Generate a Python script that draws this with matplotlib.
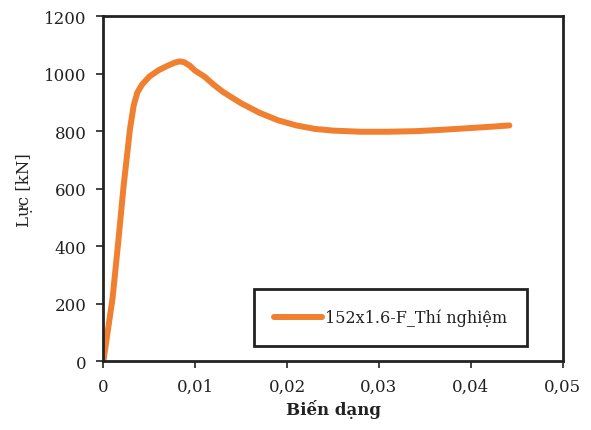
import matplotlib
matplotlib.use("Agg")
import matplotlib.pyplot as plt
from matplotlib.ticker import FuncFormatter

# Strain (bien dang) and force (kN)
bien_dang = [0.0, 0.0005, 0.001, 0.0016, 0.0022, 0.0029, 0.0033, 0.0037, 0.0042,
             0.005, 0.006, 0.007, 0.0078, 0.0083, 0.0088, 0.0094, 0.01, 0.011,
             0.012, 0.013, 0.015, 0.017, 0.019, 0.021, 0.023, 0.025, 0.028,
             0.031, 0.034, 0.037, 0.04, 0.042, 0.0442]
luc = [0, 110, 220, 410, 610, 810, 890, 935, 962,
       990, 1012, 1028, 1039, 1043, 1040, 1028, 1010, 990,
       962, 937, 897, 864, 838, 820, 808, 802, 798,
       798, 800, 805, 811, 815, 820]
ten_duong = "152x1.6-F_Thí nghiệm"

plt.rcParams['font.family'] = ['DejaVu Serif']
plt.rcParams['font.size'] = 12

fig, ax = plt.subplots(figsize=(5.91, 4.31), dpi=100)
fig.subplots_adjust(left=0.175, right=0.952, top=0.96, bottom=0.16)

ax.plot(bien_dang, luc, color='#F07F2F', lw=4.3, solid_capstyle='round',
        solid_joinstyle='round', label=ten_duong)

ax.set_xlim(0, 0.05)
ax.set_ylim(0, 1200)
ax.set_xticks([0, 0.01, 0.02, 0.03, 0.04, 0.05])
ax.set_yticks(range(0, 1201, 200))
ax.xaxis.set_major_formatter(FuncFormatter(lambda v, p: "0" if v == 0 else f"{v:.2f}".replace('.', ',')))
ax.tick_params(direction='out', length=5, width=1.2, color='#222222', pad=7,
               labelcolor='#222222')

for s in ax.spines.values():
    s.set_linewidth(2)
    s.set_color('#222222')

ax.set_xlabel("Biến dạng", fontweight='bold', labelpad=3, color='#222222')
ax.set_ylabel("Lực [kN]", labelpad=8, color='#222222')

leg = ax.legend(loc='lower right', bbox_to_anchor=(0.94, 0.02), fancybox=False,
                framealpha=1, borderpad=1.25, handlelength=3.0, handletextpad=0.2,
                fontsize=11.5)
leg.get_frame().set_edgecolor('#222222')
leg.get_frame().set_linewidth(2)
for t in leg.get_texts():
    t.set_color('#222222')

fig.savefig("out.png", dpi=100)
